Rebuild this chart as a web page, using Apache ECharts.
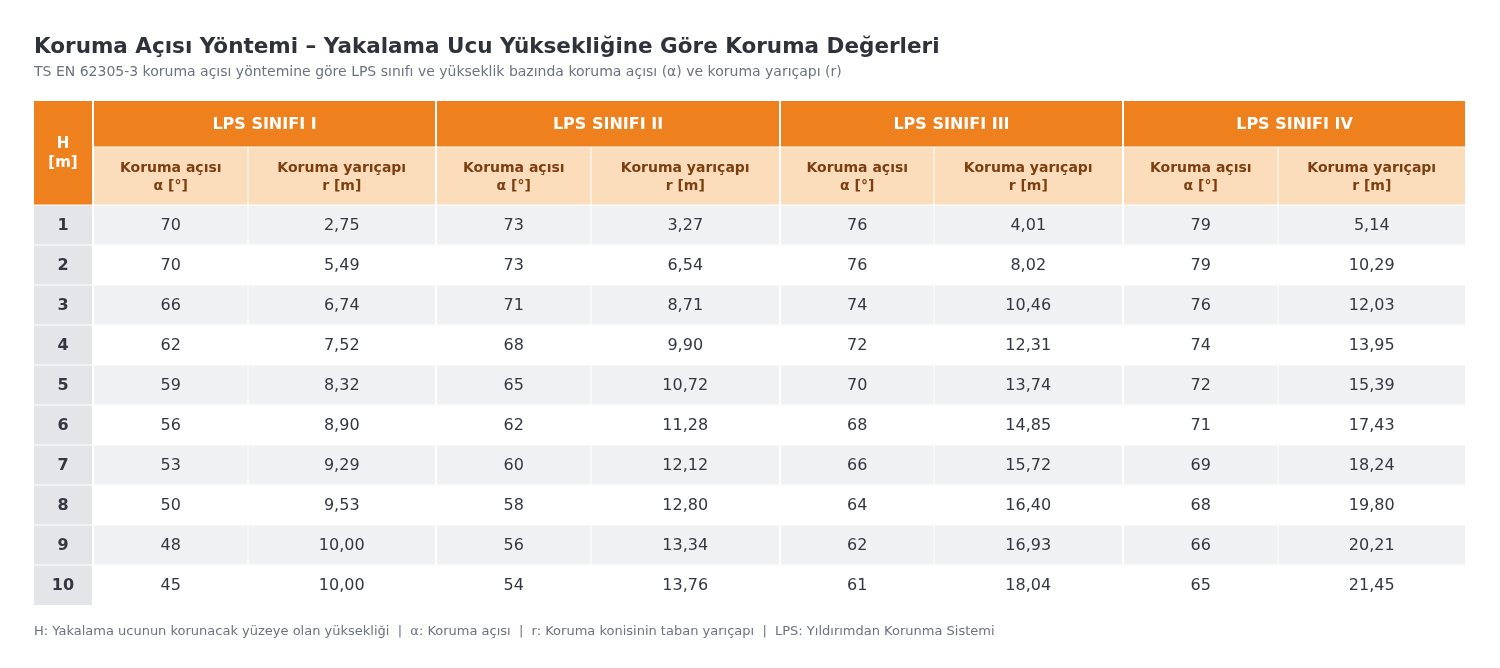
<!DOCTYPE html>
<html>
<head>
<meta charset="utf-8">
<script src="https://cdn.jsdelivr.net/npm/echarts@6/dist/echarts.min.js"></script>
<style>
  html, body { margin: 0; padding: 0; background: #fff; }
  #main { width: 1500px; height: 668px; }
</style>
</head>
<body>
<div id="main"></div>
<script>
// veriler
var heights = [1, 2, 3, 4, 5, 6, 7, 8, 9, 10];
var classNames = ['LPS SINIFI I', 'LPS SINIFI II', 'LPS SINIFI III', 'LPS SINIFI IV'];
var angleI = [70, 70, 66, 62, 59, 56, 53, 50, 48, 45];
var radiusI = [2.75, 5.49, 6.74, 7.52, 8.32, 8.90, 9.29, 9.53, 10.00, 10.00];
var angleII = [73, 73, 71, 68, 65, 62, 60, 58, 56, 54];
var radiusII = [3.27, 6.54, 8.71, 9.90, 10.72, 11.28, 12.12, 12.80, 13.34, 13.76];
var angleIII = [76, 76, 74, 72, 70, 68, 66, 64, 62, 61];
var radiusIII = [4.01, 8.02, 10.46, 12.31, 13.74, 14.85, 15.72, 16.40, 16.93, 18.04];
var angleIV = [79, 79, 76, 74, 72, 71, 69, 68, 66, 65];
var radiusIV = [5.14, 10.29, 12.03, 13.95, 15.39, 17.43, 18.24, 19.80, 20.21, 21.45];

var angles = [angleI, angleII, angleIII, angleIV];
var radii = [radiusI, radiusII, radiusIII, radiusIV];

// yerleşim (birim: eksen değerleri)
var colW = [59, 155, 188, 155, 189, 154, 189, 155, 187];
var rowH = [46, 58, 40, 40, 40, 40, 40, 40, 40, 40, 40, 40];

var colX = [0];
colW.forEach(function (w) { colX.push(colX[colX.length - 1] + w); });
var rowY = [0];
rowH.forEach(function (h) { rowY.push(rowY[rowY.length - 1] + h); });
var totalW = colX[colX.length - 1];
var totalH = rowY[rowY.length - 1];

var ORANGE = '#EF801E';
var PEACH = '#FBDDBB';
var BROWN = '#7B3F12';
var FONT = 'DejaVu Sans';

function fmt(v) { return v.toFixed(2).replace('.', ','); }

// hücreler
var cells = [];
function addCell(c0, c1, r0, r1, text, fill, color, font, lh) {
  cells.push({ c0: c0, c1: c1, r0: r0, r1: r1, text: text, fill: fill, color: color, font: font, lh: lh || 20 });
}
addCell(0, 1, 0, 2, 'H\n[m]', ORANGE, '#fff', 'bold 15px ' + FONT, 19);
classNames.forEach(function (n, g) {
  var c = 1 + g * 2;
  addCell(c, c + 2, 0, 1, n, ORANGE, '#fff', 'bold 16px ' + FONT);
  addCell(c, c + 1, 1, 2, 'Koruma açısı\nα [°]', PEACH, BROWN, 'bold 14px ' + FONT, 18);
  addCell(c + 1, c + 2, 1, 2, 'Koruma yarıçapı\nr [m]', PEACH, BROWN, 'bold 14px ' + FONT, 18);
});
heights.forEach(function (h, i) {
  var r = i + 2;
  var bg = i % 2 === 0 ? '#F0F1F3' : '#FFFFFF';
  addCell(0, 1, r, r + 1, String(h), '#E4E5E8', '#333740', 'bold 16px ' + FONT);
  for (var g = 0; g < 4; g++) {
    var c = 1 + g * 2;
    addCell(c, c + 1, r, r + 1, String(angles[g][i]), bg, '#333740', '16px ' + FONT);
    addCell(c + 1, c + 2, r, r + 1, fmt(radii[g][i]), bg, '#333740', '16px ' + FONT);
  }
});

function insetX(c) {
  if (c === 0 || c === colW.length) return 0;
  return (c % 2 === 1) ? 1 : 0.5;
}
function insetY(r) {
  if (r === 0 || r === rowH.length) return 0;
  return 0.5;
}

var data = cells.map(function (d, i) {
  return [colX[d.c0], rowY[d.r0], colX[d.c1], rowY[d.r1], i];
});

var myChart = echarts.init(document.getElementById('main'));
var option = {
  animation: false,
  title: {
    left: 34,
    top: 36,
    text: 'Koruma Açısı Yöntemi – Yakalama Ucu Yüksekliğine Göre Koruma Değerleri',
    subtext: 'TS EN 62305-3 koruma açısı yöntemine göre LPS sınıfı ve yükseklik bazında koruma açısı (α) ve koruma yarıçapı (r)',
    itemGap: 7,
    padding: 0,
    textStyle: { fontFamily: FONT, fontSize: 21.5, fontWeight: 'bold', color: '#2E333B' },
    subtextStyle: { fontFamily: FONT, fontSize: 14, color: '#6B7280' }
  },
  grid: { left: 34, right: 35, top: 101, bottom: 63 },
  xAxis: { type: 'value', min: 0, max: totalW, show: false },
  yAxis: { type: 'value', min: 0, max: totalH, inverse: true, show: false },
  graphic: [{
    type: 'text',
    left: 34,
    top: 625,
    style: {
      text: 'H: Yakalama ucunun korunacak yüzeye olan yüksekliği  |  α: Koruma açısı  |  r: Koruma konisinin taban yarıçapı  |  LPS: Yıldırımdan Korunma Sistemi',
      font: '13px ' + FONT,
      fill: '#6B7280'
    }
  }],
  series: [{
    type: 'custom',
    silent: true,
    data: data,
    encode: { x: [0, 2], y: [1, 3] },
    renderItem: function (params, api) {
      var d = cells[api.value(4)];
      var p0 = api.coord([api.value(0), api.value(1)]);
      var p1 = api.coord([api.value(2), api.value(3)]);
      var x0 = p0[0] + insetX(d.c0), x1 = p1[0] - insetX(d.c1);
      var y0 = p0[1] + insetY(d.r0), y1 = p1[1] - insetY(d.r1);
      return {
        type: 'group',
        children: [{
          type: 'rect',
          shape: { x: x0, y: y0, width: x1 - x0, height: y1 - y0 },
          style: { fill: d.fill }
        }, {
          type: 'text',
          style: {
            text: d.text,
            x: (x0 + x1) / 2,
            y: (y0 + y1) / 2 + 1,
            align: 'center',
            verticalAlign: 'middle',
            font: d.font,
            fill: d.color,
            lineHeight: d.lh
          }
        }]
      };
    }
  }]
};
myChart.setOption(option);
</script>
</body>
</html>
